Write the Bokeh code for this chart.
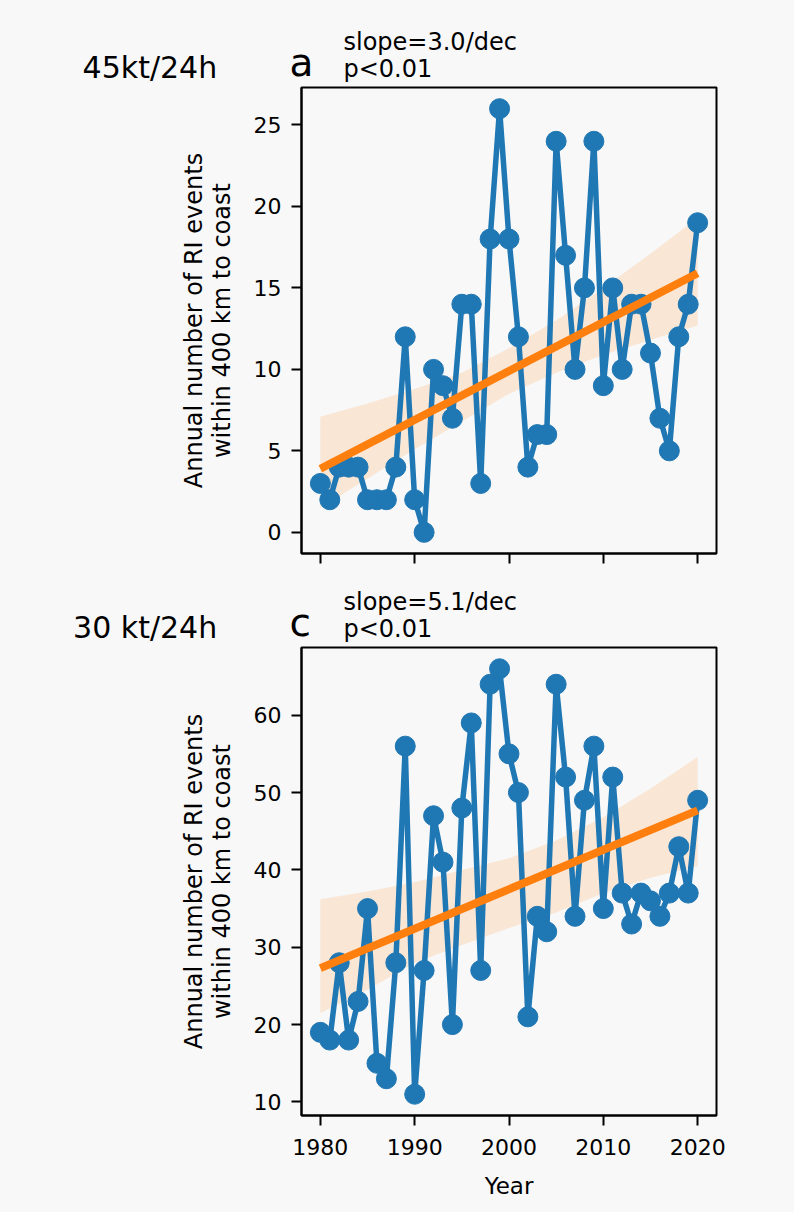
from bokeh.plotting import figure
from bokeh.models import Range1d, FixedTicker
from bokeh.layouts import column
from bokeh.core.properties import value
from bokeh.embed import file_html
from bokeh.resources import INLINE

# ---------------- data ----------------
years = list(range(1980, 2021))
ri_45kt = [3, 2, 4, 4, 4, 2, 2, 2, 4, 12, 2, 0, 10, 9, 7, 14, 14, 3, 18, 26,
           18, 12, 4, 6, 6, 24, 17, 10, 15, 24, 9, 15, 10, 14, 14, 11, 7, 5, 12, 14, 19]
ri_30kt = [19, 18, 28, 18, 23, 35, 15, 13, 28, 56, 11, 27, 47, 41, 20, 48, 59, 27, 64, 66,
           55, 50, 21, 34, 32, 64, 52, 34, 49, 56, 35, 52, 37, 33, 37, 36, 34, 37, 43, 37, 49]

trend_years = [1980, 2020]
trend_45kt = [3.9, 15.9]
trend_30kt = [27.3, 47.7]

band_years = [1980, 1985, 1990, 1995, 2000, 2005, 2010, 2015, 2020]
band_45kt_lo = [1.5, 3.3, 5.1, 6.8, 8.5, 9.8, 10.9, 11.8, 12.7]
band_45kt_hi = [7.1, 7.9, 8.8, 9.8, 11.3, 13.0, 15.0, 17.1, 19.3]
band_30kt_lo = [21.5, 24.5, 28.0, 30.3, 32.5, 34.5, 37.0, 39.0, 40.5]
band_30kt_hi = [36.2, 37.2, 38.4, 40.0, 41.5, 43.8, 46.8, 50.5, 54.6]

xticks = [1980, 1990, 2000, 2010, 2020]
yticks_45kt = [0, 5, 10, 15, 20, 25]
yticks_30kt = [10, 20, 30, 40, 50, 60]

titles = ["45kt/24h", "30 kt/24h"]
letters = ["a", "c"]
slopes = ["slope=3.0/dec", "slope=5.1/dec"]
pvals = ["p<0.01", "p<0.01"]
ylabel = "Annual number of RI events\nwithin 400 km to coast"
xlabel = "Year"

# ---------------- style ----------------
BG = "#f8f8f8"
BLUE = "#1f77b4"
ORANGE = "#ff7f0e"
FONT = "DejaVu Sans"
W = 790
FW = 415
LEFT = 301
X0, X1 = 1978, 2022


def header(h, base_top, base_bot, title, letter, slope, pval):
    """A blank canvas (no axes) holding the texts that sit above a panel."""
    hd = figure(width=W, height=h, min_border=0, frame_align=False,
                x_range=Range1d(0, W), y_range=Range1d(h, 0),
                x_axis_location=None, y_axis_location=None,
                output_backend="svg", toolbar_location=None,
                background_fill_color=BG, border_fill_color=BG, outline_line_color=None)
    hd.grid.visible = False
    kw = dict(text_font=value(FONT), text_color="black", text_baseline="alphabetic",
              text_line_height=1.0)

    def txt(x, base, s, size, align):
        hd.text(x=[x], y=[base - 0.28 * size], text=[s], text_align=align,
                text_font_size=f"{size}px", **kw)

    txt(216.7, base_bot, title, 30, "right")
    txt(289, base_bot - 2, letter, 39, "left")
    txt(343, base_top, slope, 24, "left")
    txt(343, base_bot, pval, 24, "left")
    return hd


def panel(vals, trend, lo, hi, yr, yticks, fh, bottom, last):
    p = figure(frame_width=FW, frame_height=fh, frame_align=False,
               min_border_left=LEFT, min_border_right=W - LEFT - FW,
               min_border_top=2, min_border_bottom=bottom,
               x_range=Range1d(X0, X1), y_range=Range1d(*yr),
               output_backend="svg", toolbar_location=None,
               background_fill_color=BG, border_fill_color=BG,
               outline_line_color="black", outline_line_width=2)
    p.grid.visible = False

    p.varea(x=band_years, y1=lo, y2=hi, fill_color=ORANGE, fill_alpha=0.15)
    p.line(years, vals, line_color=BLUE, line_width=5.5)
    p.scatter(years, vals, size=20, fill_color=BLUE, line_color=BLUE)
    p.line(trend_years, trend, line_color=ORANGE, line_width=8)

    for ax in (p.xaxis[0], p.yaxis[0]):
        ax.axis_line_color = "black"
        ax.axis_line_width = 2
        ax.major_tick_line_color = "black"
        ax.major_tick_line_width = 2
        ax.major_tick_out = 10
        ax.major_tick_in = 0
        ax.minor_tick_line_color = None
        ax.major_label_text_font = FONT
        ax.major_label_text_font_size = "22px"
        ax.major_label_text_color = "black"
        ax.axis_label_text_font = FONT
        ax.axis_label_text_font_style = "normal"
        ax.axis_label_text_color = "black"
    p.xaxis.ticker = FixedTicker(ticks=xticks)
    p.yaxis.ticker = FixedTicker(ticks=yticks)
    p.yaxis.major_label_standoff = 10
    p.yaxis.axis_label = ylabel
    p.yaxis.axis_label_text_font_size = "24px"
    p.yaxis.axis_label_text_line_height = 1.0
    p.yaxis.axis_label_standoff = 15
    if last:
        p.xaxis.major_label_standoff = 13
        p.xaxis.axis_label = xlabel
        p.xaxis.axis_label_text_font_size = "23px"
        p.xaxis.axis_label_standoff = 15
    else:
        p.xaxis.major_label_overrides = {t: "" for t in xticks}
        p.xaxis.major_label_text_font_size = "1px"
        p.xaxis.major_label_standoff = 0
    return p


h1 = header(85, 48, 75, titles[0], letters[0], slopes[0], pvals[0])
p1 = panel(ri_45kt, trend_45kt, band_45kt_lo, band_45kt_hi, (-1.3, 27.3), yticks_45kt,
           466, 20, False)
h2 = header(72, 35, 62, titles[1], letters[1], slopes[1], pvals[1])
p2 = panel(ri_30kt, trend_30kt, band_30kt_lo, band_30kt_hi, (8.25, 68.75), yticks_30kt,
           468, 90, True)

p = column(h1, p1, h2, p2, spacing=0, background=BG)

html = file_html(p, INLINE)
html = html.replace("<head>", "<head><style>html,body{background:#f8f8f8;}</style>", 1)
open("out.html", "w").write(html)
